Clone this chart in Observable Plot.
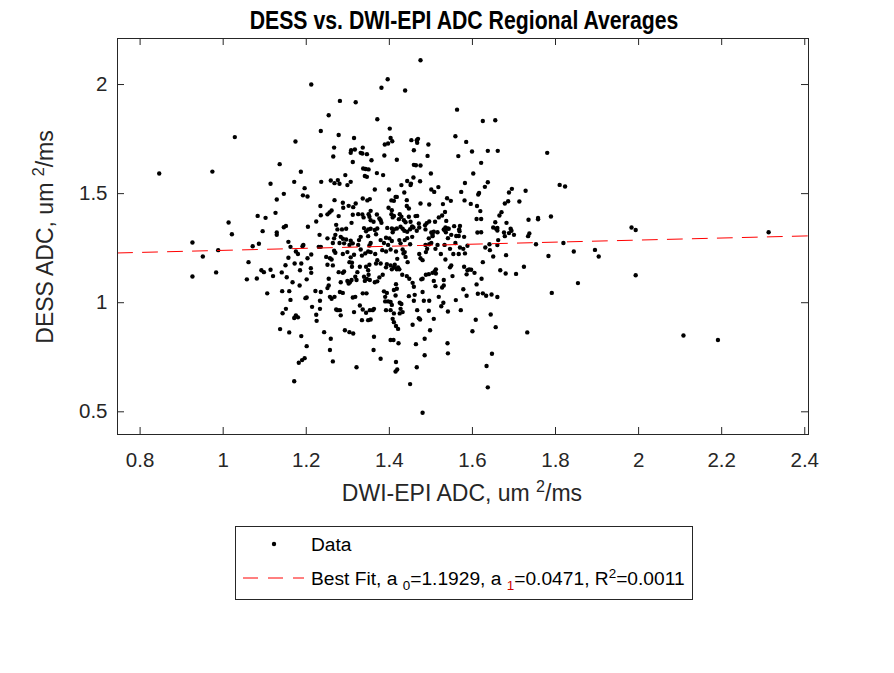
<!DOCTYPE html>
<html><head><meta charset="utf-8">
<script src="https://cdn.jsdelivr.net/npm/d3@7"></script>
<script src="https://cdn.jsdelivr.net/npm/@observablehq/plot@0.6"></script>
<style>
body{margin:0;background:#fff;}
#wrap{position:relative;width:894px;height:673px;overflow:hidden;font-family:"Liberation Sans",Arial,sans-serif;color:#262626;background:#fff;}
.abs{position:absolute;white-space:nowrap;line-height:1;}
#wrap svg{position:absolute;left:0;top:0;}
sub,sup{font-size:0.7em;line-height:0;}
</style></head><body><div id="wrap"></div>
<script>
// DWI-EPI ADC (x) and DESS ADC (y), um^2/ms
const dwiADC = [
1.028,1.136,0.846,0.974,1.114,1.146,1.129,1.126,1.083,1.102,1.013,1.021,1.095,1.129,1.129,1.151,1.146,
0.926,1.157,1.162,1.071,1.086,0.951,0.988,1.061,1.157,1.150,0.926,0.983,1.057,1.081,1.092,1.098,1.114,1.120,1.141,1.153,1.106,1.142,1.159,1.162,1.151,1.143,1.137,1.159,
1.475,1.212,1.396,1.381,1.438,1.281,1.319,1.254,1.371,1.235,1.401,1.278,1.174,
1.403,1.407,1.397,1.389,1.315,1.453,1.466,1.469,1.467,1.494,1.559,
1.267,1.265,1.336,1.308,1.317,1.307,1.331,1.335,1.346,1.459,1.388,1.492,
1.357,1.418,1.312,1.459,1.464,1.475,1.337,1.343,1.350,1.341,1.346,1.187,
1.370,1.385,1.500,1.458,1.294,1.171,1.236,1.259,1.268,1.276,1.280,1.299,1.307,
1.443,1.452,1.451,1.474,1.429,1.196,1.192,1.203,1.365,1.399,1.501,1.508,1.518,
1.436,1.415,1.418,1.336,1.347,1.353,1.442,1.268,1.405,1.411,1.539,1.548,
1.234,1.288,1.289,1.302,1.313,1.319,1.475,1.496,1.529,1.442,1.447,1.398,1.406,
1.256,1.261,1.251,1.235,1.224,1.204,1.232,1.278,1.312,1.325,1.335,1.350,1.355,
1.370,1.379,1.381,1.376,1.352,1.355,1.362,1.338,1.309,1.405,1.411,1.408,1.425,1.429,1.423,
1.435,1.439,1.447,1.451,1.455,1.463,1.467,1.471,1.486,1.490,1.496,1.510,1.519,1.527,1.534,
1.537,1.535,1.540,1.531,1.556,1.549,1.272,1.275,1.286,1.296,1.270,
1.339,1.349,1.355,1.344,1.365,1.371,1.368,1.395,1.406,1.411,1.418,1.408,1.427,1.432,1.436,
1.443,1.450,1.458,1.466,1.472,1.501,1.507,1.516,1.504,1.533,1.543,1.536,1.487,
1.563,1.625,1.655,1.585,1.566,1.599,1.637,1.661,1.780,1.621,1.602,1.582,1.637,1.630,1.573,1.616,1.614,1.695,1.688,1.728,1.810,1.823,
1.581,1.596,1.611,1.619,1.686,1.678,1.713,1.670,1.665,1.610,1.621,1.655,1.682,1.735,1.758,1.758,1.789,
1.570,1.568,1.650,1.657,1.660,1.660,1.692,1.694,1.688,1.676,1.700,1.612,1.621,1.561,1.567,1.580,1.569,1.737,1.734,
1.983,1.993,2.313,
1.193,1.191,1.175,1.180,1.172,1.212,1.230,1.235,1.203,1.188,1.211,1.212,1.185,1.167,1.184,1.201,1.222,1.198,1.201,
1.214,1.233,1.233,1.175,1.180,1.171,1.224,1.225,1.188,1.201,1.182,1.190,1.196,1.171,
1.248,1.257,1.261,1.251,1.264,1.267,1.270,1.280,1.288,1.291,1.296,1.307,1.312,1.304,1.278,1.288,1.254,
1.235,1.251,1.254,1.257,1.261,1.268,1.281,1.288,1.275,1.281,1.272,1.283,1.243,1.259,1.257,1.264,
1.293,1.304,1.313,1.321,1.299,1.305,1.302,1.309,1.283,1.291,
1.304,1.310,1.307,1.299,1.315,1.310,1.323,1.329,1.318,1.321,
1.312,1.318,1.315,1.329,1.336,1.344,1.334,1.349,1.355,
1.336,1.345,1.341,1.346,1.350,1.339,1.353,1.344,1.352,1.349,
1.334,1.342,1.349,1.355,1.352,1.355,1.349,1.325,1.331,
1.366,1.371,1.379,1.368,1.365,1.371,1.376,1.384,1.394,1.392,
1.363,1.360,1.353,1.363,1.362,1.379,
1.387,1.394,1.390,1.390,1.397,1.403,1.406,1.392,1.403,1.411,
1.408,1.411,1.416,1.421,1.403,1.410,1.416,1.415,1.419,1.422,
1.425,1.429,1.427,1.432,1.425,1.415,1.418,1.416,1.411,
1.406,1.411,1.418,1.421,1.424,1.403,1.413,
1.383,1.392,1.397,1.403,1.392,1.400,1.406,
1.416,1.419,1.434,1.437,1.432,1.439,1.444,
1.424,1.427,1.437,1.443,1.450,1.455,
1.431,1.442,1.448,1.456,1.459,
1.447,1.461,1.459,1.467,1.471,1.474,1.456,1.464,1.450,1.466,1.480,1.485,1.485,1.498,
1.480,1.480,1.477,1.488,1.495,1.504,1.512,
1.483,1.495,1.496,1.507,1.511,1.512,1.509,1.519,1.507,
1.530,1.525,1.541,1.540,1.541,1.531,1.527,1.531,1.546,1.549,1.552,
1.475,1.480,1.472,1.488,1.491,1.487,1.496,1.501,1.495,1.504,
1.516,1.511,1.524,1.533,1.541,1.546,1.554,1.535,
1.387,1.379,1.327,1.331,1.283,1.288,1.264,1.267,1.251,
1.559,1.570,1.578,1.588,1.567,1.582,1.678,1.662,1.641,1.660,1.631,1.642,1.650,1.681,1.625,1.753,1.819,1.783,1.844,1.895,1.904,1.854,1.791,1.724,1.705,1.680,1.667,
1.580,1.588,1.586,1.597,1.605,1.592,1.622,1.610,1.578,1.560,1.586,1.613,1.625,1.633,1.646,1.660,1.572,1.644,1.608,1.600,1.656,1.732,1.647,1.634,1.637,
1.993,2.108,2.191
];
const dessADC = [
1.759,1.635,1.592,1.601,1.545,1.499,1.473,1.412,1.398,1.389,1.368,1.314,1.328,1.322,1.311,1.352,1.346,
1.276,1.279,1.256,1.259,1.270,1.212,1.241,1.186,1.206,1.172,1.120,1.139,1.107,1.111,1.149,1.140,1.151,1.122,1.139,1.117,1.043,1.053,1.053,1.013,0.972,0.952,0.879,0.864,
2.111,2.000,2.024,1.985,1.973,1.925,1.919,1.859,1.841,1.787,1.798,1.769,1.739,
1.755,1.740,1.730,1.725,1.755,1.745,1.745,1.751,1.733,1.725,1.763,
1.711,1.670,1.711,1.699,1.702,1.687,1.687,1.684,1.681,1.699,1.675,1.673,
1.653,1.655,1.645,1.632,1.630,1.629,1.615,1.613,1.611,1.581,1.577,1.600,
1.594,1.585,1.592,1.574,1.585,1.554,1.554,1.560,1.548,1.562,1.545,1.539,1.554,
1.558,1.546,1.539,1.557,1.539,1.525,1.492,1.487,1.519,1.519,1.519,1.508,1.530,
1.505,1.485,1.485,1.478,1.469,1.475,1.470,1.470,1.469,1.467,1.479,1.467,
1.443,1.458,1.435,1.444,1.438,1.455,1.455,1.450,1.452,1.443,1.432,1.435,1.424,
1.414,1.423,1.405,1.401,1.372,1.348,1.311,1.397,1.403,1.406,1.404,1.406,1.421,
1.404,1.378,1.366,1.386,1.394,1.378,1.371,1.391,1.366,1.406,1.398,1.391,1.406,1.394,1.383,
1.378,1.369,1.394,1.371,1.350,1.397,1.398,1.363,1.355,1.365,1.372,1.371,1.391,1.400,1.416,
1.375,1.345,1.340,1.336,1.351,1.311,1.357,1.336,1.336,1.339,1.311,
1.342,1.336,1.339,1.327,1.333,1.340,1.314,1.343,1.340,1.336,1.340,1.323,1.348,1.339,1.330,
1.325,1.337,1.345,1.330,1.345,1.322,1.325,1.323,1.311,1.333,1.339,1.323,1.336,
1.885,1.833,1.836,1.737,1.672,1.693,1.696,1.696,1.687,1.641,1.592,1.549,1.552,1.531,1.508,1.503,1.496,1.522,1.505,1.513,1.540,1.533,
1.469,1.453,1.443,1.420,1.465,1.455,1.464,1.415,1.400,1.384,1.384,1.369,1.366,1.380,1.388,1.382,1.395,
1.352,1.336,1.345,1.339,1.331,1.343,1.339,1.330,1.319,1.322,1.311,1.322,1.323,1.306,1.306,1.302,1.327,1.317,1.305,
1.345,1.333,1.323,
1.265,1.259,1.235,1.223,1.180,1.221,1.256,1.256,1.204,1.180,1.158,1.137,1.149,1.094,1.079,1.107,1.054,1.021,1.024,
0.981,1.009,0.972,0.942,0.933,0.930,0.945,0.917,0.847,0.801,0.725,0.737,0.746,0.640,
1.210,1.204,1.198,1.174,1.171,1.238,1.229,1.274,1.223,1.272,1.290,1.284,1.272,1.265,1.140,1.137,1.110,
1.049,1.067,1.079,1.027,1.018,1.027,1.049,1.045,0.966,0.966,0.969,0.942,0.865,0.835,0.783,0.731,
0.874,0.865,0.859,0.704,1.100,1.094,1.088,1.104,1.094,1.143,
1.186,1.183,1.208,1.232,1.220,1.165,1.140,1.165,1.119,1.104,
1.024,1.027,0.957,0.987,0.969,0.954,0.920,0.920,0.923,
1.043,1.043,1.100,1.109,1.128,1.119,1.104,1.165,1.174,1.149,
1.216,1.226,1.235,1.232,1.262,1.274,1.305,1.265,1.244,
1.223,1.195,1.180,1.180,1.094,1.098,1.116,1.128,1.177,1.162,
0.972,0.966,0.966,0.844,0.783,0.743,
1.052,1.045,1.027,1.006,1.006,1.003,0.990,0.966,0.966,0.951,
0.926,0.911,0.893,0.880,0.829,0.829,0.728,0.685,0.694,0.814,
1.000,0.994,0.972,0.957,0.951,1.033,1.064,1.085,1.058,
1.153,1.162,1.153,1.162,1.153,1.171,1.174,
1.241,1.235,1.265,1.244,1.298,1.295,1.283,
1.235,1.201,1.226,1.232,1.244,1.210,1.186,
1.287,1.272,1.287,1.296,1.268,1.302,
1.128,1.122,1.110,1.091,1.073,
1.030,1.036,1.009,0.966,0.929,0.923,0.899,0.810,0.627,0.704,0.496,0.759,0.835,0.874,
1.049,1.110,1.107,1.128,1.131,1.137,1.134,
1.009,0.963,1.009,1.100,1.076,1.153,1.143,1.027,0.926,
1.000,0.984,0.960,0.814,0.768,1.079,1.070,1.104,1.162,1.171,1.122,
1.204,1.195,1.223,1.232,1.247,1.265,1.268,1.274,1.295,1.305,
1.265,1.247,1.223,1.265,1.296,1.247,1.223,1.198,
1.274,1.287,1.287,1.302,1.302,1.293,1.274,1.295,1.295,
1.274,1.253,1.247,1.261,1.223,1.226,1.305,1.287,1.268,1.264,1.253,1.241,1.212,1.218,1.186,1.268,1.274,1.214,1.235,1.242,1.212,1.090,1.045,1.165,1.132,1.134,1.149,
1.165,1.149,1.130,1.151,1.137,1.153,1.110,1.084,1.062,1.012,1.032,1.041,1.043,1.032,1.038,1.026,0.966,0.946,0.922,0.869,0.888,0.864,0.766,0.710,0.612,
1.126,0.850,0.829
];
const xTicks = [0.8, 1, 1.2, 1.4, 1.6, 1.8, 2, 2.2, 2.4];
const yTicks = [0.5, 1, 1.5, 2];
const fitA0 = 1.1929, fitA1 = 0.0471, fitR2 = 0.0011;
const xDomain = [0.7456, 2.409];
const yDomain = [0.396, 2.211];

const W = 894, H = 673, mL = 117, mR = 86, mT = 38, mB = 239;
const innerW = W - mL - mR, innerH = H - mT - mB;
const ink = "#262626";

const points = dwiADC.map((x, i) => ({x, y: dessADC[i]}));
const fit = xDomain.map(x => ({x, y: fitA0 + fitA1 * x}));

const chart = Plot.plot({
  width: W, height: H,
  marginLeft: mL, marginRight: mR, marginTop: mT, marginBottom: mB,
  style: {fontFamily: '"Liberation Sans", Arial, sans-serif', background: "transparent", color: ink},
  x: {domain: xDomain},
  y: {domain: yDomain},
  marks: [
    Plot.dot(points, {x: "x", y: "y", r: 2.2, fill: "#000", stroke: null}),
    Plot.line(fit, {x: "x", y: "y", stroke: "#ff0000", strokeWidth: 1, strokeDasharray: "15,10"}),
    Plot.tickX(xTicks, {x: d => d, stroke: ink, insetTop: innerH - 7}),
    Plot.tickX(xTicks, {x: d => d, stroke: ink, insetBottom: innerH - 7}),
    Plot.tickY(yTicks, {y: d => d, stroke: ink, insetRight: innerW - 7}),
    Plot.tickY(yTicks, {y: d => d, stroke: ink, insetLeft: innerW - 7}),
    Plot.axisX(xTicks, {anchor: "bottom", tickSize: 0, tickPadding: 18, fontSize: 20.5, label: null, tickFormat: d => String(d), fill: ink}),
    Plot.axisY(yTicks, {anchor: "left", tickSize: 0, tickPadding: 10, fontSize: 20.5, label: null, tickFormat: d => String(d), fill: ink}),
    Plot.frame({stroke: ink})
  ]
});
const wrap = document.getElementById("wrap");
wrap.appendChild(chart);

function addText(html, style) {
  const d = document.createElement("div");
  d.className = "abs";
  d.innerHTML = html;
  Object.assign(d.style, style);
  wrap.appendChild(d);
  return d;
}
// title (condensed bold, as in the reference)
addText("DESS vs. DWI-EPI ADC Regional Averages", {
  left: "464px", top: "8px", fontSize: "25px", fontWeight: "bold", color: "#000",
  transform: "translateX(-50%) scaleX(0.85)"
});
// x label
addText("DWI-EPI ADC, um <sup>2</sup>/ms", {
  left: "462px", top: "482px", fontSize: "23px", color: ink,
  transform: "translateX(-50%)"
});
// y label
addText("DESS ADC, um <sup>2</sup>/ms", {
  left: "45px", top: "237px", fontSize: "23px", color: ink,
  transform: "translate(-50%,-50%) rotate(-90deg)"
});
// legend
const lg = document.createElement("div");
Object.assign(lg.style, {position: "absolute", left: "235px", top: "526px", width: "456px", height: "72px",
  border: "1px solid " + ink, background: "#fff"});
wrap.appendChild(lg);
lg.innerHTML = `
<svg width="456" height="72" style="position:absolute;left:0;top:0">
  <circle cx="38" cy="17" r="2.2" fill="#000"></circle>
  <line x1="7" x2="68" y1="51" y2="51" stroke="#ff0000" stroke-width="1" stroke-dasharray="15,10"></line>
</svg>
<div class="abs" style="left:75px;top:8px;font-size:19.2px;color:#000">Data</div>
<div class="abs" style="left:75px;top:42px;font-size:19.2px;color:#000">Best Fit, a <sub>0</sub>=${fitA0.toFixed(4)}, a <sub style="color:#d00000">1</sub>=${fitA1.toFixed(4)}, R<sup>2</sup>=${fitR2.toFixed(4)}</div>
`;
</script>
</body></html>
